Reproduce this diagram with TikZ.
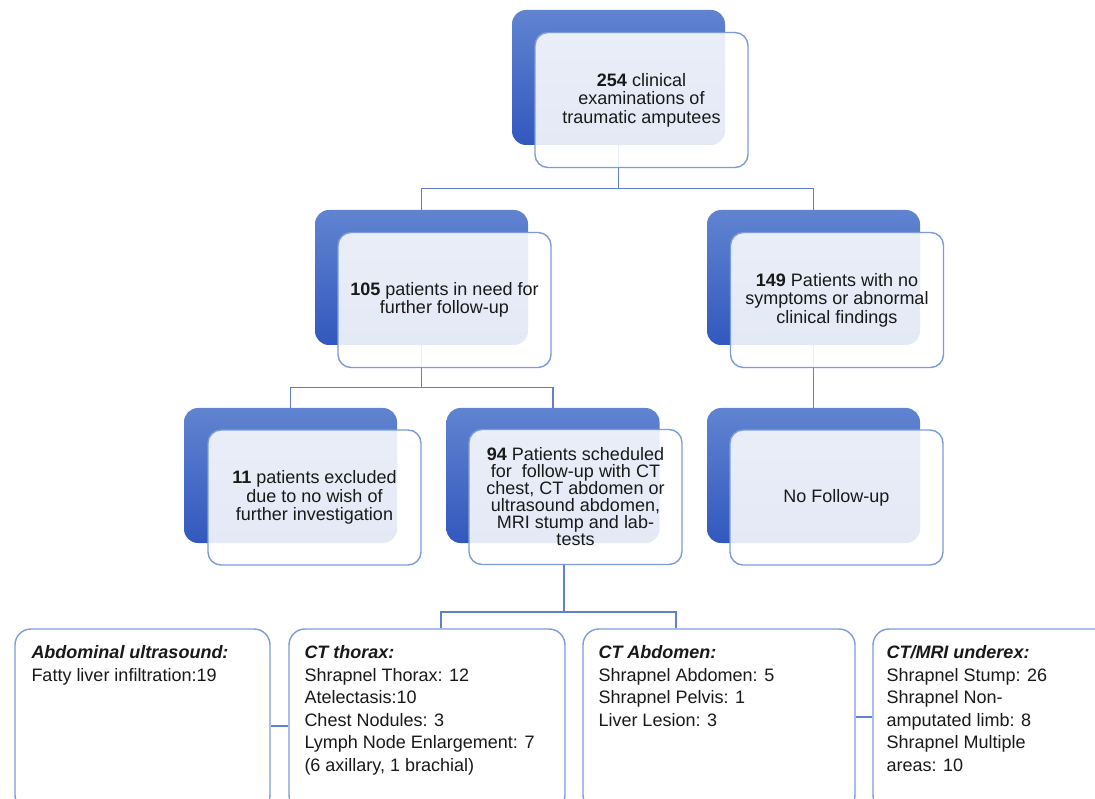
\documentclass[tikz,border=0pt]{standalone}
\usepackage{fontspec}
\setmainfont{Liberation Sans}
\usetikzlibrary{backgrounds,calc}

\definecolor{boxline}{RGB}{125,155,218}
\definecolor{linkblue}{RGB}{95,128,205}
\definecolor{backtop}{RGB}{96,132,208}
\definecolor{backbot}{RGB}{50,88,190}
\definecolor{ink}{RGB}{25,25,25}

\tikzset{
	backbox/.style={rounded corners=14pt, minimum width=213pt, minimum height=135pt,
		top color=backtop, bottom color=backbot, draw=none},
	frontbox/.style={rounded corners=13pt, minimum width=213pt, minimum height=135pt,
		draw=boxline, line width=1.4pt, fill=white, fill opacity=0.87, text opacity=1,
		text=ink, align=center, font=\fontsize{18}{18.5}\selectfont},
	findbox/.style={rounded corners=16pt, draw=boxline, line width=1.4pt,
		minimum height=182pt, fill=white},
	findtext/.style={anchor=north west, align=left, inner sep=0pt, text=ink,
		font=\fontsize{18}{22.5}\selectfont},
	link/.style={draw=linkblue, line width=1.2pt},
}

\begin{document}
\begin{tikzpicture}[x=1pt, y=-1pt]
		\useasboundingbox (0,0) rectangle (1095,799);

		% top
		\node[backbox] (exam-b) at (618.5,77.5) {};
		\node[frontbox] (exam) at (641.5,100) {\textbf{254} clinical\\examinations of\\traumatic amputees};

		% second row
		\node[backbox] (need-b) at (421.5,277.5) {};
		\node[frontbox] (need) at (444.5,300) {\textbf{105} patients in need for\\further follow-up};
		\node[backbox] (nosym-b) at (813.5,277.5) {};
		\node[frontbox] (nosym) at (837,300) {\textbf{149} Patients with no\\symptoms or abnormal\\clinical findings};

		% third row
		\node[backbox] (excl-b) at (290.5,475.5) {};
		\node[frontbox] (excl) at (314.5,497.5) {\textbf{11} patients excluded\\due to no wish of\\further investigation};
		\node[backbox] (sched-b) at (553,475.5) {};
		\node[frontbox, font=\fontsize{18}{17}\selectfont] (sched) at (575.5,497) {\textbf{94} Patients scheduled\\for\ \ follow-up with CT\\chest, CT abdomen or\\ultrasound abdomen,\\MRI stump and lab-\\tests};
		\node[backbox] (nofu-b) at (813.5,475.5) {};
		\node[frontbox] (nofu) at (836.5,497.5) {No Follow-up};

		% findings
		\node[findbox, minimum width=255pt] (usnd) at (142.5,720) {};
		\node[findbox, minimum width=276pt] (thorax) at (427,720) {};
		\node[findbox, minimum width=272pt] (abdo) at (719,720) {};
		\node[findbox, minimum width=244pt] (mri) at (995,720) {};

		\node[findtext] (usnd-t) at ($(usnd.north west)+(17,17)$) {\textbf{\textit{Abdominal ultrasound:}}\\Fatty liver infiltration:19};
		\node[findtext] (thorax-t) at ($(thorax.north west)+(16,17)$) {\textbf{\textit{CT thorax:}}\\Shrapnel Thorax: 12\\Atelectasis:10\\Chest Nodules: 3\\Lymph Node Enlargement: 7\\(6 axillary, 1 brachial)};
		\node[findtext] (abdo-t) at ($(abdo.north west)+(16,17)$) {\textbf{\textit{CT Abdomen:}}\\Shrapnel Abdomen: 5\\Shrapnel Pelvis: 1\\Liver Lesion: 3};
		\node[findtext] (mri-t) at ($(mri.north west)+(14,17)$) {\textbf{\textit{CT/MRI underex:}}\\Shrapnel Stump: 26\\Shrapnel Non-\\amputated limb: 8\\Shrapnel Multiple\\areas: 10};

		\begin{scope}[on background layer]
			\coordinate (j1) at ($(exam-b.south)+(0,43)$);
			\draw[link] (exam-b.south) -- (j1);
			\draw[link] (need-b.north) |- (j1) -| (nosym-b.north);

			\coordinate (j2) at ($(need-b.south)+(0,42)$);
			\draw[link] (need-b.south) -- (j2);
			\draw[link] (excl-b.north) |- (j2) -| (sched-b.north);

			\draw[link] (nosym-b.south) -- (nofu-b.north);

			\coordinate (j3) at (564,612);
			\draw[link] (sched.south -| j3) -- (j3);
			\draw[link] (j3) -| ([xshift=14pt]thorax.north);
			\draw[link] (j3) -| ([xshift=-43pt]abdo.north);

			\draw[link] ([yshift=-6pt]usnd.east) -- ([yshift=-6pt]thorax.west);
			\draw[link] ([yshift=3pt]abdo.east) -- ([yshift=3pt]mri.west);
		\end{scope}
	\end{tikzpicture}
\end{document}
